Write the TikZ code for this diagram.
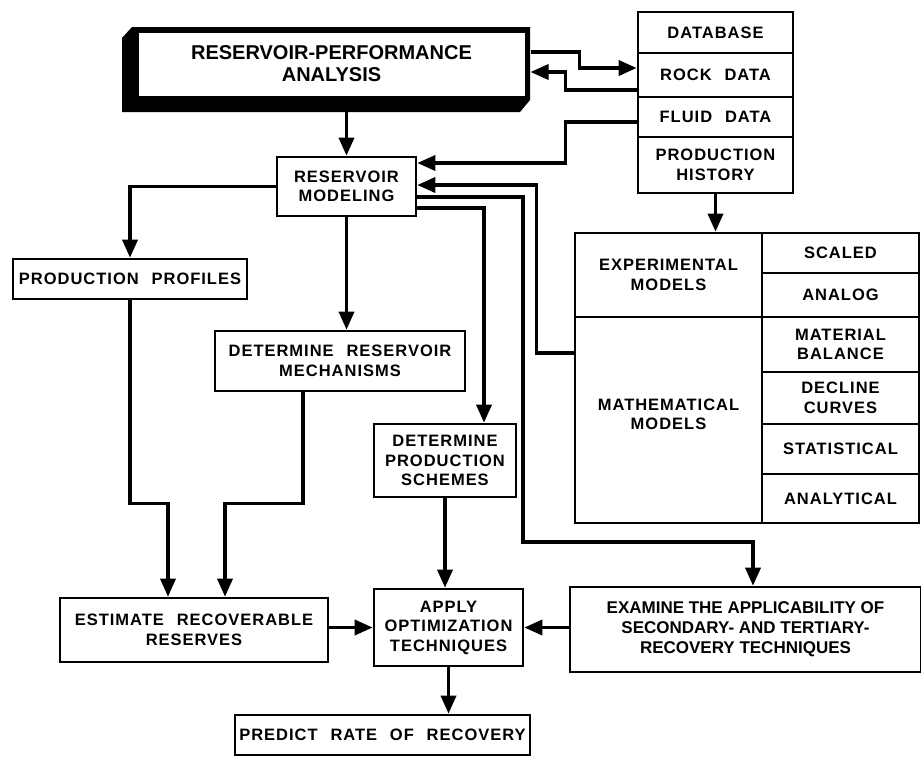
\documentclass[tikz,border=0pt]{standalone}
\usepackage{fontspec}
\setmainfont{Liberation Sans}
\newfontfamily\boxfont[LetterSpace=6,WordSpace=2.3]{Liberation Sans}
\usetikzlibrary{arrows.meta,calc,positioning}
\tikzset{>={Triangle[length=18pt,width=15pt]}}
\tikzset{
  box/.style={draw,line width=2.6pt,fill=white,inner sep=0pt,align=center,
    font=\boxfont\bfseries\fontsize{16.5}{19.5}\selectfont},
  flow/.style={->,line width=3.4pt},
}

\begin{document}
\begin{tikzpicture}[x=1pt,y=-1pt]
    \useasboundingbox (0,0) rectangle (921,756);
    \fill (122,38) -- (132,27) -- (530,27) -- (530,100) -- (520,112) -- (122,112) -- cycle;
    \node [box,line width=1pt,minimum width=387pt,minimum height=64pt,
      font=\bfseries\fontsize{20}{22}\selectfont] (title) at (331.5,64) {RESERVOIR-PERFORMANCE\\ANALYSIS};

    \node [box,minimum width=155pt,minimum height=41pt] (db) at (715.5,32.5) {DATABASE};
    \node [box,minimum width=155pt,minimum height=44pt] (rock) at (715.5,75) {ROCK DATA};
    \node [box,minimum width=155pt,minimum height=40pt] (fluid) at (715.5,117) {FLUID DATA};
    \node [box,minimum width=155pt,minimum height=56pt] (hist) at (715.5,165) {PRODUCTION\\HISTORY};

    \node [box,minimum width=187pt,minimum height=84pt] (expm) at (668.5,275) {EXPERIMENTAL\\MODELS};
    \node [box,minimum width=187pt,minimum height=206pt] (mathm) at (668.5,420) {MATHEMATICAL\\MODELS\\[-8pt]};
    \node [box,minimum width=157pt,minimum height=40pt] (scaled) at (840.5,253) {SCALED};
    \node [box,minimum width=157pt,minimum height=44pt] (analog) at (840.5,295) {ANALOG};
    \node [box,minimum width=157pt,minimum height=55pt] (matbal) at (840.5,344.5) {MATERIAL\\BALANCE};
    \node [box,minimum width=157pt,minimum height=52pt] (decl) at (840.5,398) {DECLINE\\CURVES};
    \node [box,minimum width=157pt,minimum height=50pt] (stat) at (840.5,449) {STATISTICAL};
    \node [box,minimum width=157pt,minimum height=49pt] (anal) at (840.5,498.5) {ANALYTICAL};

    \node [box,minimum width=139pt,minimum height=59pt] (rm) at (346.5,186.5) {RESERVOIR\\MODELING};
    \node [box,minimum width=234pt,minimum height=40pt] (pp) at (130,279) {PRODUCTION PROFILES};
    \node [box,minimum width=250pt,minimum height=60pt] (drm) at (340,361) {DETERMINE RESERVOIR\\MECHANISMS};
    \node [box,minimum width=142pt,minimum height=73pt] (dps) at (445,460.5) {DETERMINE\\PRODUCTION\\SCHEMES};
    \node [box,minimum width=268pt,minimum height=64pt] (err) at (194,630) {ESTIMATE RECOVERABLE\\RESERVES};
    \node [box,minimum width=149pt,minimum height=77pt] (aot) at (448.5,627.5) {APPLY\\OPTIMIZATION\\TECHNIQUES};
    \node [box,minimum width=295pt,minimum height=40pt] (prr) at (382.5,735) {PREDICT RATE OF RECOVERY};
    \node [box,minimum width=351pt,minimum height=85pt,
      font=\bfseries\fontsize{17}{20}\selectfont] (exa) at (745.5,629.5) {EXAMINE THE APPLICABILITY OF\\SECONDARY- AND TERTIARY-\\RECOVERY TECHNIQUES};

    \coordinate (bend) at (523,542);

    \draw [flow] ([xshift=5pt,yshift=12pt]title.east) -- ++(49,0) |- ([yshift=7pt]rock.west);
    \draw [flow] ([yshift=-15pt]rock.west) -- ++(-71,0) |- ([xshift=5pt,yshift=-8pt]title.east);
    \draw [flow] ([yshift=-5pt]fluid.west) -- ++(-71,0) |- ([yshift=23.5pt]rm.east);
    \draw [flow] (hist.south) -- (hist.south |- expm.north);
    \draw [flow] ([yshift=67pt]mathm.west) -- ++(-37,0) |- ([yshift=1.5pt]rm.east);
    \draw [flow] ([yshift=-10.5pt]rm.east) -| (bend) -| ([xshift=7.5pt]exa.north);
    \draw [flow] ([yshift=-21.5pt]rm.east) -| ([xshift=39pt]dps.north);
    \draw [flow] (rm.north |- title.south) -- (rm.north);
    \draw [flow] (rm.west) -| (pp.north);
    \draw [flow] (rm.south) -- (rm.south |- drm.north);
    \draw [flow] (pp.south) -- ++(0,203) -| ([xshift=-26pt]err.north);
    \draw [flow] ([xshift=-37pt]drm.south) -- ++(0,111) -| ([xshift=31pt]err.north);
    \draw [flow] (dps.south) -- (dps.south |- aot.north);
    \draw [flow] (aot.west -| err.east) -- (aot.west);
    \draw [flow] (aot.east -| exa.west) -- (aot.east);
    \draw [flow] (aot.south) -- (aot.south |- prr.north);
  \end{tikzpicture}
\end{document}
